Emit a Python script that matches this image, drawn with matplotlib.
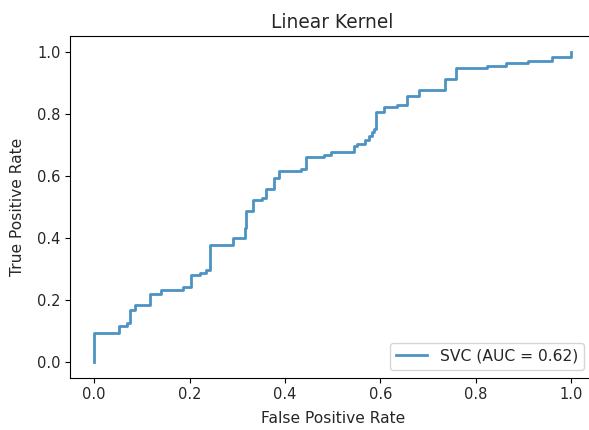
import matplotlib
matplotlib.use('Agg')
import matplotlib.pyplot as plt
import numpy as np

# step-up points: (fpr, tpr after the step)
step_fpr = [0.0, 0.052, 0.068, 0.076, 0.085, 0.118, 0.141, 0.186, 0.204, 0.221,
            0.235, 0.242, 0.292, 0.316, 0.319, 0.332, 0.351, 0.361, 0.377, 0.388,
            0.433, 0.444, 0.482, 0.496, 0.545, 0.552, 0.568, 0.577, 0.582, 0.587,
            0.591, 0.608, 0.634, 0.656, 0.680, 0.736, 0.759, 0.824, 0.864, 0.910,
            0.959, 1.0]
step_tpr = [0.093, 0.117, 0.127, 0.168, 0.183, 0.218, 0.231, 0.243, 0.280, 0.286,
            0.295, 0.377, 0.399, 0.431, 0.485, 0.523, 0.528, 0.558, 0.591, 0.614,
            0.623, 0.659, 0.668, 0.675, 0.695, 0.703, 0.714, 0.729, 0.741, 0.751,
            0.804, 0.822, 0.828, 0.856, 0.877, 0.913, 0.948, 0.953, 0.963, 0.968,
            0.983, 1.0]
auc_label = 'SVC (AUC = 0.62)'

# corner points, like roc_curve output
fpr = [0.0]
tpr = [0.0]
for x, y in zip(step_fpr, step_tpr):
    fpr += [x, x]
    tpr += [tpr[-1], y]
fpr = np.array(fpr)
tpr = np.array(tpr)

fig = plt.figure(figsize=(5.89, 4.30), dpi=100)
ax = fig.add_axes([70.3 / 589, (430 - 377.5) / 430, 524.7 / 589, 341.5 / 430])
ax.plot(fpr, tpr, color='C0', alpha=0.8, lw=2, label=auc_label)
ax.set_xlabel('False Positive Rate', fontsize=11.2, labelpad=6, color='#262626')
ax.set_ylabel('True Positive Rate', fontsize=11.2, labelpad=9, color='#262626')
ax.set_title('Linear Kernel', fontsize=13.4, color='#262626')
ax.tick_params(labelsize=10.5, labelcolor='#262626')
leg = ax.legend(loc='lower right', bbox_to_anchor=(0.979, 0.022), borderaxespad=0,
                fontsize=11.2)
for t in leg.get_texts():
    t.set_color('#262626')

fig.savefig('out.png')
